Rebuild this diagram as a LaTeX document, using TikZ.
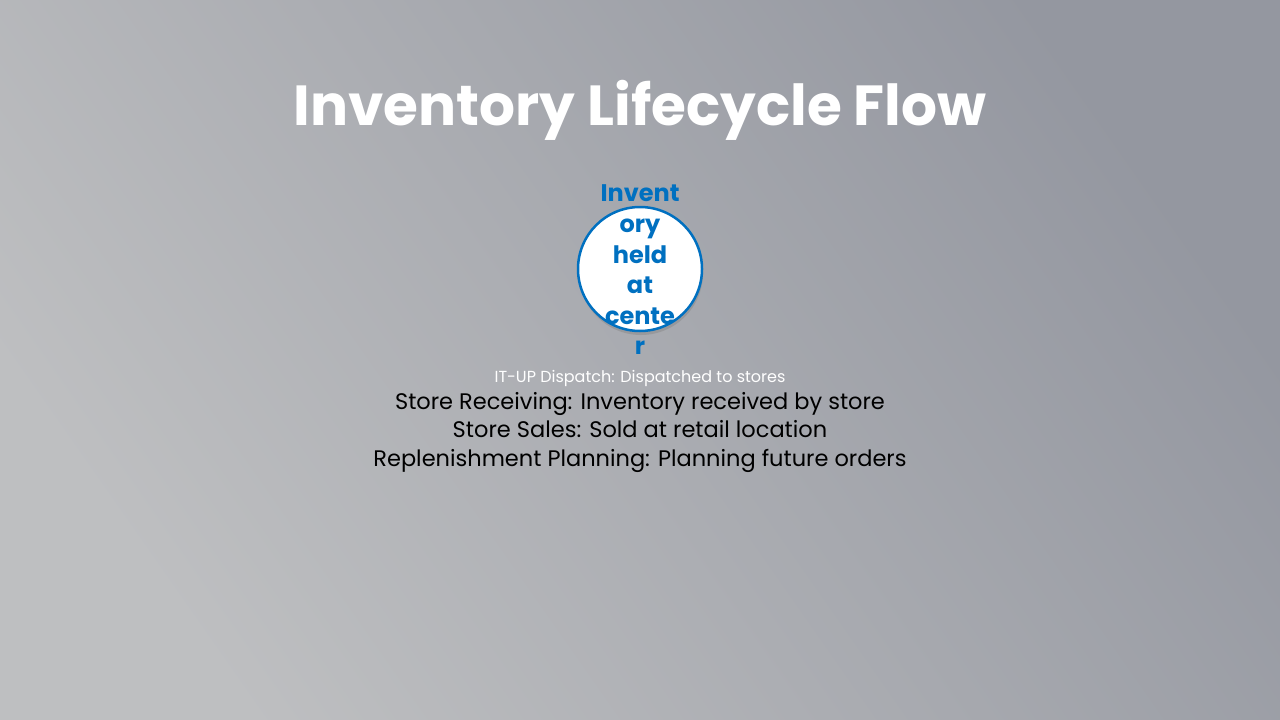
\documentclass[tikz,border=0pt]{standalone}
\usepackage{fontspec}
\setmainfont{Poppins}
\usetikzlibrary{shadows}
\definecolor{stepblue}{RGB}{0,112,192}
\definecolor{bgtop}{RGB}{148,151,160}
\definecolor{bgbot}{RGB}{190,191,193}

\begin{document}
\begin{tikzpicture}[x=1pt,y=-1pt]
\shade[left color=bgtop, right color=bgbot, shading angle=-55] (0,0) rectangle (1280,720);
\useasboundingbox (0,0) rectangle (1280,720);

\node[anchor=base] (title) at (640,125) {\fontsize{56.5}{64}\selectfont\bfseries\color{white}Inventory Lifecycle Flow};

\draw[fill=white, draw=stepblue, line width=2.5pt, drop shadow={opacity=0.4, shadow xshift=1pt, shadow yshift=-4pt}] (640,269) circle (62);
\node[align=center, text=stepblue, font=\fontsize{24}{30.6}\selectfont\bfseries] (hub) at (640,270) {Invent\\ory\\held\\at\\cente\\r};

\node[anchor=base, text=white, font=\fontsize{16}{18}\selectfont] (dispatch) at (640,382) {IT-UP Dispatch: Dispatched to stores};
\node[anchor=base, font=\fontsize{22.5}{26}\selectfont] (receive) at (640,409) {Store Receiving: Inventory received by store};
\node[anchor=base, font=\fontsize{22.5}{26}\selectfont] (sales) at (640,437) {Store Sales: Sold at retail location};
\node[anchor=base, font=\fontsize{22.5}{26}\selectfont] (replan) at (640,466) {Replenishment Planning: Planning future orders};
\end{tikzpicture}
\end{document}
